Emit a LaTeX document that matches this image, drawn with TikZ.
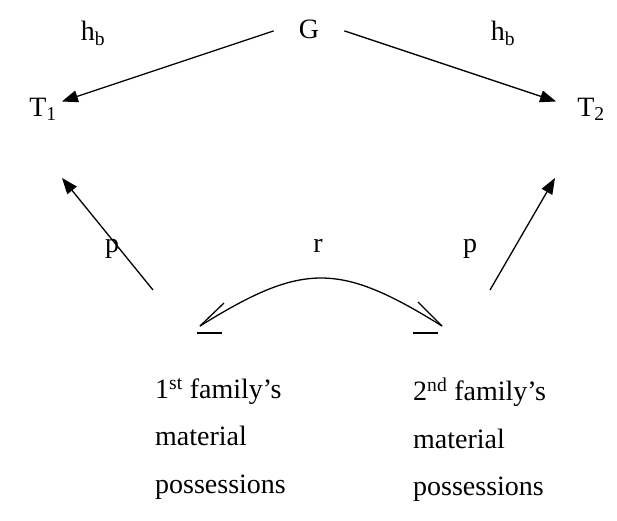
\documentclass[tikz,border=0pt]{standalone}
\usepackage{fontspec}
\setmainfont{Liberation Serif}
\usetikzlibrary{arrows.meta}

\begin{document}
\begin{tikzpicture}[x=1pt,y=-1pt,
  lbl/.style={font=\fontsize{28}{47.5}\selectfont,inner sep=0pt},
  arr/.style={-{Triangle[length=16pt,width=12pt]},line width=1.3pt},
  plain/.style={line width=1.3pt}]
  \useasboundingbox (0,0) rectangle (617,520);
  % top row
  \node[lbl,anchor=base] (G) at (309,38) {G};
  \node[lbl,anchor=base] (hbl) at (93,40) {h\textsubscript{b}};
  \node[lbl,anchor=base] (hbr) at (503,40) {h\textsubscript{b}};
  \node[lbl,anchor=base] (T1) at (43,116) {T\textsubscript{1}};
  \node[lbl,anchor=base] (T2) at (591,116) {T\textsubscript{2}};
  % labels in the middle
  \node[lbl,anchor=base] (pl) at (112,252) {p};
  \node[lbl,anchor=base] (pr) at (470,252) {p};
  \node[lbl,anchor=base] (r) at (318,252) {r};
  % the two families
  \node[lbl,anchor=north west,align=left] (F1) at (155,378)
    {1\textsuperscript{st} family’s\\material\\possessions};
  \node[lbl,anchor=north west,align=left] (F2) at (413,378)
    {2\textsuperscript{nd} family’s\\material\\possessions};
  % G to T
  \draw[arr] ([shift={(-25,2)}]G.west) -- ([shift={(5,4)}]T1.north east);
  \draw[arr] ([shift={(25,2)}]G.east) -- ([shift={(-21,4)}]T2.north west);
  % p arrows
  \coordinate (pl0) at (153,290);
  \coordinate (pl1) at (62,178);
  \coordinate (pr0) at (490,290);
  \coordinate (pr1) at (555,178);
  \draw[arr] (pl0) -- (pl1);
  \draw[arr] (pr0) -- (pr1);
  % r curve
  \coordinate (rL) at (200,326);
  \coordinate (rR) at (442,326);
  \draw[plain] (rR) .. controls (339,262) and (303,262) .. (rL);
  \draw[plain] (rL) -- ++(24,-23);
  \draw[plain] (rR) -- ++(-24,-24);
  \draw[plain] (197,333) -- (222,333);
  \draw[plain] (413,333) -- (438,333);
\end{tikzpicture}
\end{document}
